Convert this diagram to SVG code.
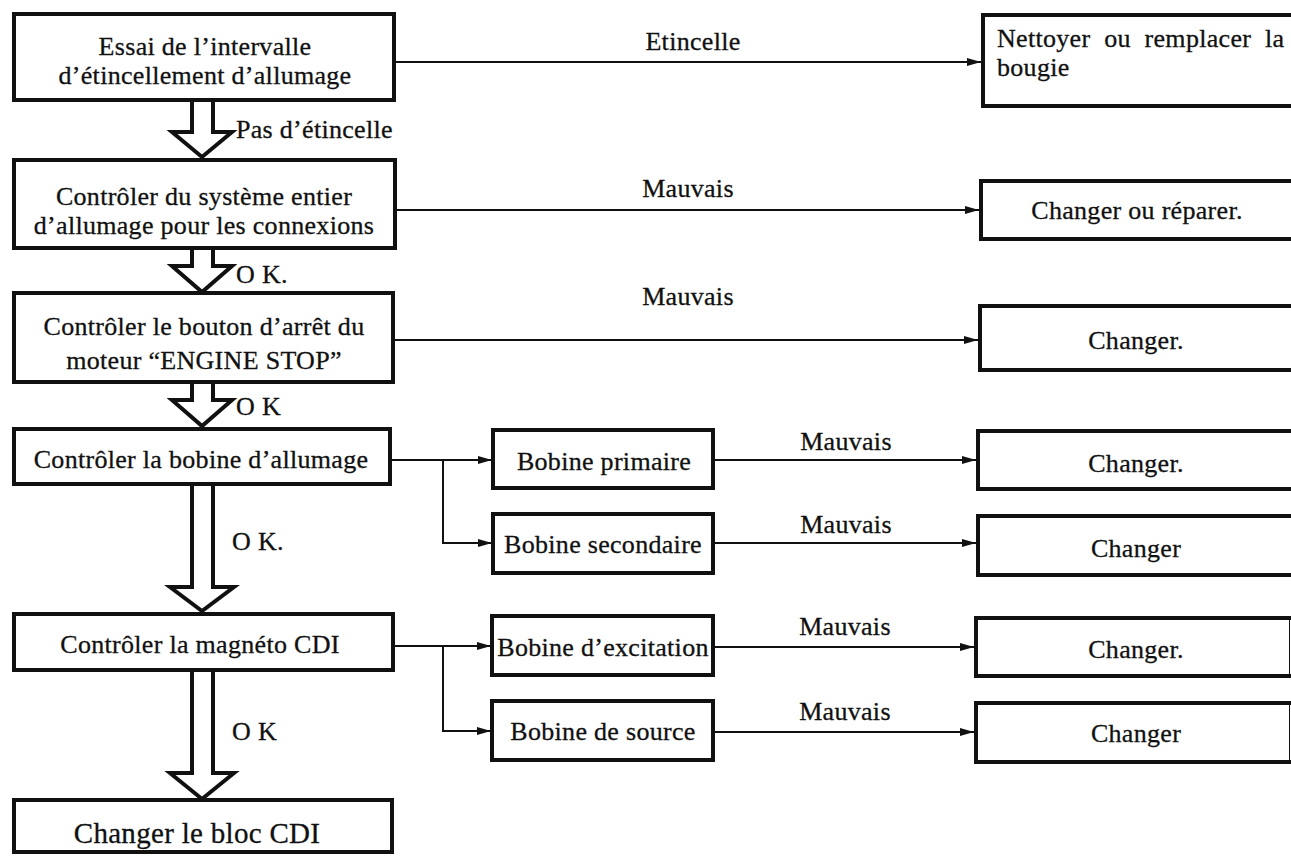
<svg xmlns="http://www.w3.org/2000/svg" width="1291" height="856" viewBox="0 0 1291 856">
  <defs>
    <marker id="arr" viewBox="0 0 14 8" refX="14" refY="4" markerWidth="14" markerHeight="8" markerUnits="userSpaceOnUse" orient="auto">
      <path d="M0,0 L14,4 L0,8 Z" fill="#111"/>
    </marker>
    <style>
      .box { fill: #fff; stroke: #111; stroke-width: 4; }
      .edge { fill: none; stroke: #111; stroke-width: 1; }
      .la { fill: none; stroke: #111; stroke-width: 2; marker-end: url(#arr); }
      .big { fill: #fff; stroke: #111; stroke-width: 4; stroke-linejoin: miter; }
      text { font-family: "Liberation Serif", "Times New Roman", serif; font-size: 26px; fill: #111; stroke: #111; stroke-width: 0.3px; letter-spacing: 0.3px; }
      .c { text-anchor: middle; }
    </style>
  </defs>

  <rect width="1291" height="856" fill="#fff"/>

  <!-- connectors -->
  <g id="connectors">
    <!-- hollow down arrows on the main column -->
    <path class="big" d="M192,100 V132 H172 L202,157 L232,132 H213 V100"/>
    <path class="big" d="M192,248 V266 H172 L202,292 L232,266 H213 V248"/>
    <path class="big" d="M192,382 V400 H172 L202,426 L232,400 H213 V382"/>
    <path class="big" d="M192,484 V587 H170 L202,611 L234,587 H213 V484"/>
    <path class="big" d="M192,670 V773 H170 L202,799 L234,773 H213 V670"/>
    <text x="236" y="138">Pas d’étincelle</text>
    <text x="236" y="283">O K.</text>
    <text x="236" y="415">O K</text>
    <text x="232" y="550">O K.</text>
    <text x="232" y="740">O K</text>

    <!-- failure branches to the right -->
    <line class="la" x1="396" y1="62" x2="981" y2="62"/>
    <text class="c" x="693" y="50">Etincelle</text>
    <line class="la" x1="397" y1="210" x2="979" y2="210"/>
    <text class="c" x="688" y="197">Mauvais</text>
    <line class="la" x1="395" y1="340" x2="978" y2="340"/>
    <text class="c" x="688" y="305">Mauvais</text>

    <!-- ignition coil split -->
    <line class="la" x1="392" y1="460" x2="492" y2="460"/>
    <polyline class="la" points="443,460 443,543 492,543"/>
    <!-- CDI magneto split -->
    <line class="la" x1="395" y1="646" x2="491" y2="646"/>
    <polyline class="la" points="443,646 443,731 491,731"/>

    <line class="la" x1="715" y1="460" x2="976" y2="460"/>
    <text class="c" x="846" y="450">Mauvais</text>
    <line class="la" x1="715" y1="543" x2="976" y2="543"/>
    <text class="c" x="846" y="533">Mauvais</text>
    <line class="la" x1="714" y1="647" x2="974" y2="647"/>
    <text class="c" x="845" y="635">Mauvais</text>
    <line class="la" x1="714" y1="732" x2="974" y2="732"/>
    <text class="c" x="845" y="720">Mauvais</text>
  </g>

  <!-- main column -->
  <g id="n-essai">
    <rect class="box" x="14" y="14" width="380" height="86"/>
    <text class="c" x="205" y="55">Essai de l’intervalle</text>
    <text class="c" x="205" y="84">d’étincellement d’allumage</text>
  </g>
  <g id="n-systeme">
    <rect class="box" x="14" y="160" width="381" height="88"/>
    <text class="c" x="204" y="205">Contrôler du système entier</text>
    <text class="c" x="204" y="234">d’allumage pour les connexions</text>
  </g>
  <g id="n-stop">
    <rect class="box" x="14" y="293" width="379" height="89"/>
    <text class="c" x="204" y="335">Contrôler le bouton d’arrêt du</text>
    <text class="c" x="204" y="369">moteur “ENGINE STOP”</text>
  </g>
  <g id="n-bobine">
    <rect class="box" x="14" y="429" width="376" height="55"/>
    <text class="c" x="201" y="468">Contrôler la bobine d’allumage</text>
  </g>
  <g id="n-magneto">
    <rect class="box" x="14" y="614" width="379" height="56"/>
    <text class="c" x="200" y="653">Contrôler la magnéto CDI</text>
  </g>
  <g id="n-bloc">
    <rect class="box" x="14" y="800" width="378" height="52"/>
    <text class="c" x="197" y="843" style="font-size:29px">Changer le bloc CDI</text>
  </g>

  <!-- sub-checks -->
  <g id="n-primaire">
    <rect class="box" x="493" y="430" width="220" height="58"/>
    <text class="c" x="604" y="470">Bobine primaire</text>
  </g>
  <g id="n-secondaire">
    <rect class="box" x="493" y="514" width="220" height="59"/>
    <text class="c" x="603" y="553">Bobine secondaire</text>
  </g>
  <g id="n-excitation">
    <rect class="box" x="492" y="616" width="221" height="59"/>
    <text class="c" x="603" y="656">Bobine d’excitation</text>
  </g>
  <g id="n-source">
    <rect class="box" x="492" y="701" width="221" height="59"/>
    <text class="c" x="603" y="740">Bobine de source</text>
  </g>

  <!-- remedies -->
  <g id="r-bougie">
    <rect class="box" x="983" y="15" width="320" height="91"/>
    <text x="997" y="47" style="word-spacing:7px">Nettoyer ou remplacer la</text>
    <text x="997" y="76">bougie</text>
  </g>
  <g id="r-reparer">
    <rect class="box" x="981" y="181" width="320" height="58"/>
    <text class="c" x="1137" y="219">Changer ou réparer.</text>
  </g>
  <g id="r-stop">
    <rect class="box" x="980" y="306" width="320" height="64"/>
    <text class="c" x="1136" y="349">Changer.</text>
  </g>
  <g id="r-primaire">
    <rect class="box" x="978" y="431" width="322" height="58"/>
    <text class="c" x="1136" y="472">Changer.</text>
  </g>
  <g id="r-secondaire">
    <rect class="box" x="978" y="516" width="322" height="59"/>
    <text class="c" x="1136" y="557">Changer</text>
  </g>
  <g id="r-excitation">
    <rect class="box" x="976" y="618" width="324" height="58"/>
    <line class="edge" x1="1289.5" y1="618" x2="1289.5" y2="676"/>
    <text class="c" x="1136" y="658">Changer.</text>
  </g>
  <g id="r-source">
    <rect class="box" x="976" y="703" width="324" height="59"/>
    <line class="edge" x1="1289.5" y1="703" x2="1289.5" y2="762"/>
    <text class="c" x="1136" y="742">Changer</text>
  </g>
</svg>
